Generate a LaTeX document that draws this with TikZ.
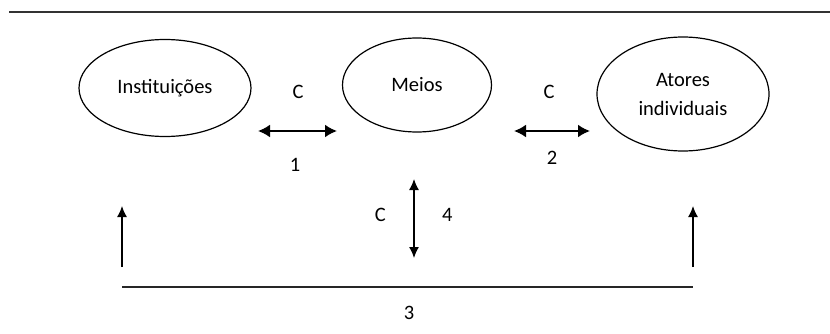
\documentclass[tikz,border=0pt]{standalone}
\usepackage{fontspec}
\setmainfont{Carlito}
\usetikzlibrary{positioning}
\usetikzlibrary{arrows.meta}
\usetikzlibrary{shapes.geometric}

\begin{document}
\begin{tikzpicture}
		[x=1pt, y=1pt,
		 font=\fontsize{20.5}{29}\selectfont,
		 agent/.style={ellipse, draw=black, line width=1.2pt, inner sep=0pt, align=center},
		 tag/.style={inner sep=0pt},
		 both/.style={{Latex[length=12pt,width=13pt]}-{Latex[length=12pt,width=13pt]}, line width=2pt},
		 updown/.style={{Latex[length=11pt,width=10pt]}-{Latex[length=11pt,width=10pt]}, line width=1.3pt},
		 up/.style={-{Latex[length=11pt,width=10pt]}, line width=1.3pt}]
		\useasboundingbox (0,0) rectangle (830,333);

		\coordinate (topl) at (9,321);
		\coordinate (topr) at (830,321);
		\draw[line width=1.4pt, black!80] (topl) -- (topr);

		\node[agent, minimum width=172, minimum height=97] (inst) at (165,245) {Instituições};
		\node[agent, minimum width=149, minimum height=94] (meios) at (417,248) {Meios};
		\node[agent, minimum width=172, minimum height=114] (atores) at (683,239) {Atores\\individuais};

		\coordinate (h1a) at (258,202);
		\coordinate (h1b) at (337,202);
		\coordinate (h2a) at (514,202);
		\coordinate (h2b) at (590,202);
		\draw[both] (h1a) -- (h1b);
		\draw[both] (h2a) -- (h2b);
		\node[tag] (c1) at (298,241) {C};
		\node[tag] (n1) at (295,168) {1};
		\node[tag] (c2) at (549,241) {C};
		\node[tag] (n2) at (552,175) {2};

		\coordinate (vtop) at (414,154);
		\coordinate (vbot) at (414,75);
		\coordinate (vmid) at (414,118);
		\draw[updown] (vbot) -- (vtop);
		\node[tag, left=28pt of vmid] (c4) {C};
		\node[tag, right=28pt of vmid] (n4) {4};

		\coordinate (la) at (122,66);
		\coordinate (lb) at (122,127);
		\coordinate (ra) at (693,66);
		\coordinate (rb) at (693,127);
		\draw[up] (la) -- (lb);
		\draw[up] (ra) -- (rb);
		\coordinate (basel) at (122,46);
		\coordinate (baser) at (693,46);
		\draw[line width=1.4pt, black!85] (basel) -- (baser);
		\node[tag] (n3) at (409,20) {3};
	\end{tikzpicture}
\end{document}
